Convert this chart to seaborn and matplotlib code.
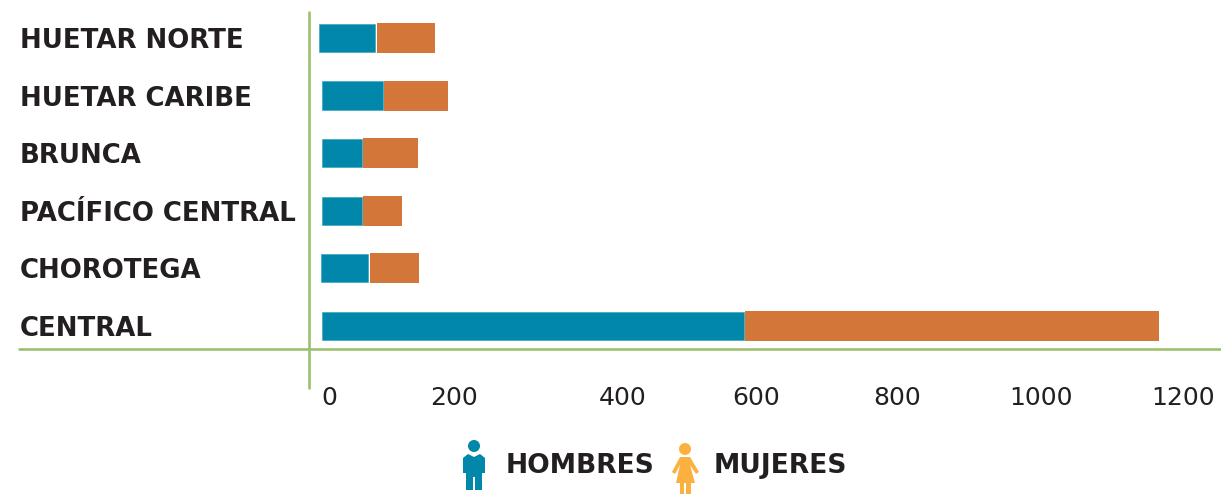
import numpy as np
import pandas as pd
import matplotlib
matplotlib.use('Agg')
import matplotlib.pyplot as plt
from matplotlib.patches import Circle, Polygon
import seaborn as sns

# ================= data =================
REGIONS = ['HUETAR NORTE', 'HUETAR CARIBE', 'BRUNCA', 'PACÍFICO CENTRAL', 'CHOROTEGA', 'CENTRAL']
HOMBRES = [79, 86, 56, 56, 66, 594]
MUJERES = [82, 90, 77, 54, 69, 583]
# the bars do not all start exactly on zero in the original
STARTS = [-4, 0, 0, 0, -1, 0]

TICK_LABELS = ['0', '200', '400', '600', '800', '1000', '1200']
# labels are unevenly placed in the original
TICK_POS = [10, 186, 424, 611, 810, 1013, 1213]

TEAL = '#0087A9'
TEAL_EDGE = '#2E9FBC'
ORANGE = '#D2763A'
GREEN = '#9BBF6E'
YELLOW = '#FBB040'
INK = '#231F20'

W, H = 1221, 494
PX = 0.72  # points per pixel at dpi 100
GAP = 2.0  # white sliver between the two segments

sns.set_theme(style='white')
plt.rcParams['font.family'] = ['DejaVu Sans']

df = pd.DataFrame({'region': REGIONS, 'hombres': HOMBRES, 'mujeres': MUJERES, 'start': STARTS})
df['mid'] = df['start'] + df['hombres'] + GAP

fig = plt.figure(figsize=(W / 100, H / 100), dpi=100)
ax = fig.add_axes([309 / W, 1 - 349 / H, (W - 309) / W, 337 / H])

sns.barplot(data=df, x='hombres', y='region', order=REGIONS, color=TEAL, saturation=1,
            width=0.49, ax=ax, left=df['start'].values, edgecolor=TEAL_EDGE, linewidth=0.4)
sns.barplot(data=df, x='mujeres', y='region', order=REGIONS, color=ORANGE, saturation=1,
            width=0.52, ax=ax, left=df['mid'].values, linewidth=0)

ax.set_xlim(-18.3, 1266)
ax.set_ylim(5.4, -0.45)
ax.set_xlabel('')
ax.set_ylabel('')
for s in ax.spines.values():
    s.set_visible(False)

ax.set_xticks(TICK_POS, TICK_LABELS, fontsize=25 * PX, color=INK)
ax.tick_params(axis='x', length=0, pad=37 * PX)
ax.tick_params(axis='y', length=0, pad=289 * PX)
for lab in ax.get_yticklabels():
    lab.set_ha('left')
    lab.set_fontsize(26 * PX)
    lab.set_fontweight('bold')
    lab.set_color(INK)

# axis lines run past the axes box
ax.axhline(5.4, xmin=-(309 - 19) / (W - 309), xmax=1, color=GREEN, lw=2 * PX * 1.3, clip_on=False)
ax.axvline(-18.3, ymin=-(388 - 349) / 337, ymax=1, color=GREEN, lw=2 * PX * 1.3, clip_on=False)

# legend, in pixel coordinates
lg = fig.add_axes([0, 0, 1, 1])
lg.set_xlim(0, W)
lg.set_ylim(H, 0)
lg.axis('off')
lg.patch.set_alpha(0)

lg.add_patch(Circle((474, 446), 6, color=TEAL, lw=0))
lg.add_patch(Polygon([(468, 454), (474, 457), (480, 454), (485, 458), (485, 473), (482, 473), (482, 490),
                      (475, 490), (475, 477), (473, 477), (473, 490), (466, 490), (466, 473), (463, 473),
                      (463, 458)], color=TEAL, lw=0))
lg.add_patch(Circle((685, 449), 6, color=YELLOW, lw=0))
lg.add_patch(Polygon([(680, 457), (690, 457), (699, 472), (696, 474), (690, 465), (695, 483), (691, 483),
                      (691, 494), (686, 494), (686, 483), (684, 483), (684, 494), (680, 494), (680, 483),
                      (676, 483), (680, 465), (675, 474), (672, 472)], color=YELLOW, lw=0))

lg.text(506, 466, 'HOMBRES', fontsize=26.5 * PX, fontweight='bold', color=INK, ha='left', va='center')
lg.text(714, 466, 'MUJERES', fontsize=26.5 * PX, fontweight='bold', color=INK, ha='left', va='center')

plt.savefig('out.png', dpi=100)
plt.close()
